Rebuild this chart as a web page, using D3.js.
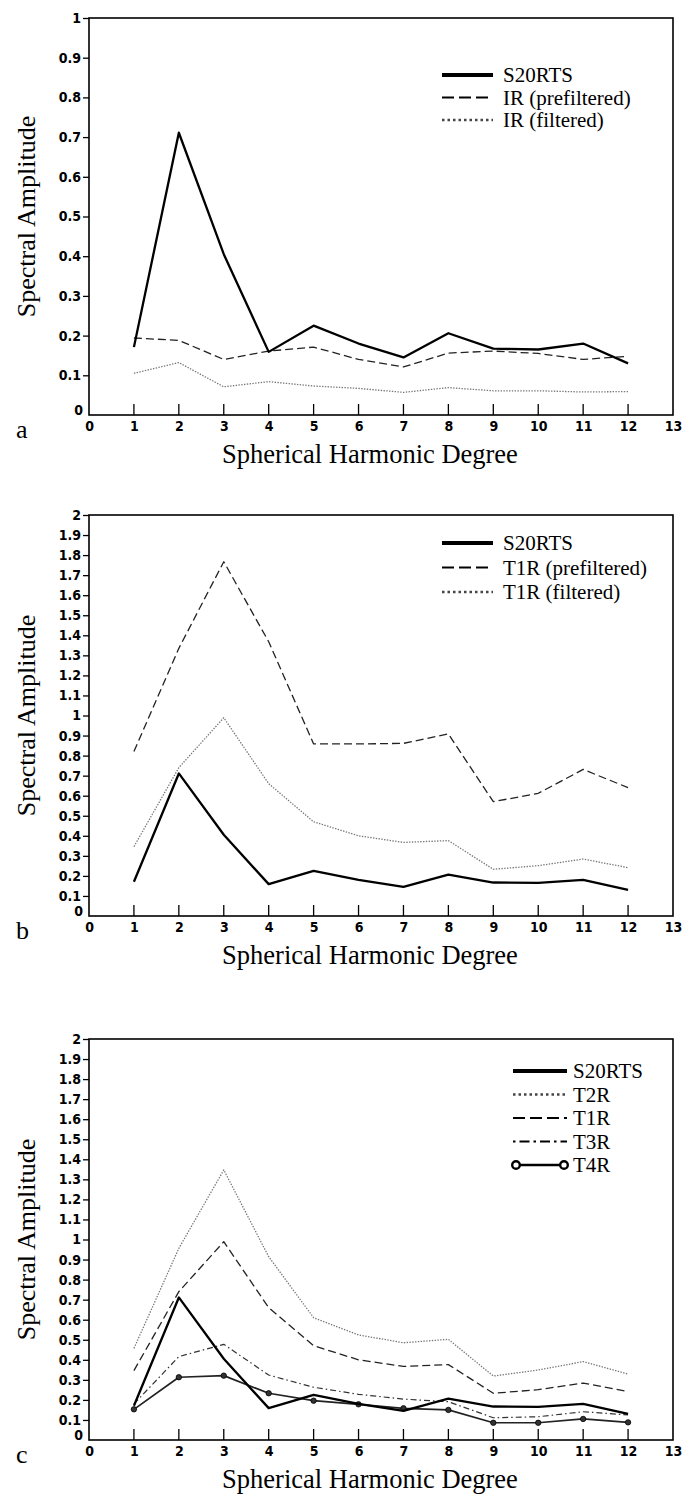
<!DOCTYPE html>
<html><head><meta charset="utf-8">
<script src="https://cdn.jsdelivr.net/npm/d3@7"></script>
<style>body{margin:0;background:#fff}svg{display:block}</style>
</head><body>
<svg id="c" width="688" height="1495"></svg>
<script>
const degrees = [1,2,3,4,5,6,7,8,9,10,11,12];
const xTicks = [0,1,2,3,4,5,6,7,8,9,10,11,12,13];
const yTicksA = ["0","0.1","0.2","0.3","0.4","0.5","0.6","0.7","0.8","0.9","1"];
const yTicksBC = ["0","0.1","0.2","0.3","0.4","0.5","0.6","0.7","0.8","0.9","1","1.1","1.2","1.3","1.4","1.5","1.6","1.7","1.8","1.9","2"];

const s20rts = [0.171,0.711,0.405,0.159,0.225,0.180,0.145,0.206,0.167,0.165,0.180,0.130];
const irPre  = [0.194,0.188,0.140,0.161,0.171,0.140,0.121,0.156,0.161,0.155,0.140,0.148];
const irFil  = [0.105,0.132,0.071,0.084,0.073,0.067,0.057,0.069,0.061,0.061,0.058,0.059];
const t1rPre = [0.820,1.335,1.767,1.368,0.858,0.858,0.861,0.908,0.570,0.612,0.731,0.640];
const t1rFil = [0.346,0.740,0.989,0.660,0.470,0.400,0.367,0.376,0.233,0.251,0.284,0.241];
const t2r    = [0.457,0.956,1.347,0.914,0.610,0.524,0.485,0.502,0.319,0.349,0.391,0.329];
const t3r    = [0.180,0.416,0.477,0.324,0.263,0.228,0.204,0.191,0.111,0.116,0.141,0.125];
const t4r    = [0.153,0.313,0.321,0.233,0.196,0.178,0.158,0.150,0.086,0.086,0.105,0.088];

const styles = {
  solid:  {stroke:"#000", width:2.3, dash:null},
  dash:   {stroke:"#222", width:1.3, dash:"8,4"},
  dot:    {stroke:"#777", width:1.3, dash:"1.4,1.4"},
  dashdot:{stroke:"#333", width:1.2, dash:"6,3,1.5,3"},
  circ:   {stroke:"#222", width:1.7, dash:null, marker:true}
};

const panels = [
  {label:"a", top:18, bottom:415, max:1, ticks:yTicksA,
   series:[{name:"S20RTS",v:s20rts,s:"solid"},{name:"IR (prefiltered)",v:irPre,s:"dash"},{name:"IR (filtered)",v:irFil,s:"dot"}],
   legX:442, legW:51, legY:75, legStep:22.5, legGap:10},
  {label:"b", top:515, bottom:916, max:2, ticks:yTicksBC,
   series:[{name:"S20RTS",v:s20rts,s:"solid"},{name:"T1R (prefiltered)",v:t1rPre,s:"dash"},{name:"T1R (filtered)",v:t1rFil,s:"dot"}],
   legX:442, legW:51, legY:543, legStep:24.5, legGap:10},
  {label:"c", top:1039, bottom:1440, max:2, ticks:yTicksBC,
   series:[{name:"S20RTS",v:s20rts,s:"solid"},{name:"T2R",v:t2r,s:"dot"},{name:"T1R",v:t1rFil,s:"dash"},{name:"T3R",v:t3r,s:"dashdot"},{name:"T4R",v:t4r,s:"circ"}],
   legX:513, legW:54, legY:1071, legStep:23.5, legGap:6}
];

const svg = d3.select("#c");
const left = 89, right = 673;
const tickFont = "'DejaVu Sans Condensed','Liberation Sans Narrow',sans-serif";
const serif = "'Liberation Serif','DejaVu Serif',serif";

panels.forEach(p => {
  const x = d3.scaleLinear().domain([0,13]).range([left,right]);
  const y = d3.scaleLinear().domain([0,p.max]).range([p.bottom,p.top]);
  const g = svg.append("g");

  // y axis
  const yVals = p.ticks.map(Number);
  const yAxis = d3.axisLeft(y).tickValues(yVals).tickFormat((d,i)=>p.ticks[i]).tickSize(6).tickSizeOuter(0).tickPadding(2);
  const ya = g.append("g").attr("transform",`translate(${left},0)`).call(yAxis);
  ya.select(".domain").remove();
  ya.selectAll("line").attr("stroke","#000").attr("stroke-width",1.3);
  ya.selectAll("text").attr("font-family",tickFont).attr("font-weight","bold").attr("font-size",14).attr("fill","#000");
  ya.selectAll(".tick").filter(d=>d===0).select("line").remove();
  ya.selectAll(".tick").filter(d=>d===0).select("text").attr("dy","-0.05em").attr("x",-6);

  // x axis, ticks inward
  const xAxis = d3.axisBottom(x).tickValues(xTicks).tickFormat(d3.format("d")).tickSize(0).tickPadding(6);
  const xa = g.append("g").attr("transform",`translate(0,${p.bottom})`).call(xAxis);
  xa.select(".domain").remove();
  xa.selectAll("text").attr("font-family",tickFont).attr("font-weight","bold").attr("font-size",14).attr("fill","#000");
  g.append("g").selectAll("line").data(degrees).join("line")
    .attr("x1",d=>x(d)).attr("x2",d=>x(d)).attr("y1",p.bottom).attr("y2",p.bottom-11)
    .attr("stroke","#000").attr("stroke-width",1.3);

  // frame
  g.append("rect").attr("x",left).attr("y",p.top).attr("width",right-left).attr("height",p.bottom-p.top)
    .attr("fill","none").attr("stroke","#000").attr("stroke-width",1.6);

  // titles
  g.append("text").attr("x",370).attr("y",p.bottom+48).attr("text-anchor","middle")
    .attr("font-family",serif).attr("font-size",26.5).text("Spherical Harmonic Degree");
  g.append("text").attr("transform",`translate(35,${(p.top+p.bottom)/2}) rotate(-90)`).attr("text-anchor","middle")
    .attr("font-family",serif).attr("font-size",26).text("Spectral Amplitude");
  g.append("text").attr("x",16).attr("y",p.bottom+23).attr("font-family",serif).attr("font-size",26).text(p.label);

  // lines
  const line = d3.line().x((d,i)=>x(degrees[i])).y(d=>y(d));
  p.series.slice().reverse().forEach(s => {
    const st = styles[s.s];
    g.append("path").datum(s.v).attr("d",line).attr("fill","none")
      .attr("stroke",st.stroke).attr("stroke-width",st.width)
      .attr("stroke-dasharray",st.dash).attr("stroke-linejoin","round");
    if (st.marker) {
      g.append("g").selectAll("circle").data(s.v).join("circle")
        .attr("cx",(d,i)=>x(degrees[i])).attr("cy",d=>y(d)).attr("r",2.7)
        .attr("fill","#333").attr("stroke","#000").attr("stroke-width",0.8);
    }
  });

  // legend
  const lg = g.append("g");
  p.series.forEach((s,i) => {
    const st = styles[s.s];
    const yy = p.legY + i*p.legStep;
    const x1 = p.legX, x2 = p.legX + p.legW;
    lg.append("line").attr("x1",x1).attr("x2",x2).attr("y1",yy).attr("y2",yy)
      .attr("stroke",s.s==="dot"?"#444":"#000")
      .attr("stroke-width", s.s==="solid"?4:(s.s==="circ"?2.4:(s.s==="dot"?2.5:2)))
      .attr("stroke-dasharray", s.s==="dash"?"12,5":(s.s==="dot"?"2.5,3":(s.s==="dashdot"?"2.5,4,10,4":null)));
    if (st.marker) {
      [x1+3,x2-3].forEach(cx => lg.append("circle").attr("cx",cx).attr("cy",yy).attr("r",3.8)
        .attr("fill","#fff").attr("stroke","#000").attr("stroke-width",2.4));
    }
    lg.append("text").attr("x",x2+p.legGap).attr("y",yy).attr("dy","0.35em")
      .attr("font-family",serif).attr("font-size",21).text(s.name);
  });
});
</script>
</body></html>
